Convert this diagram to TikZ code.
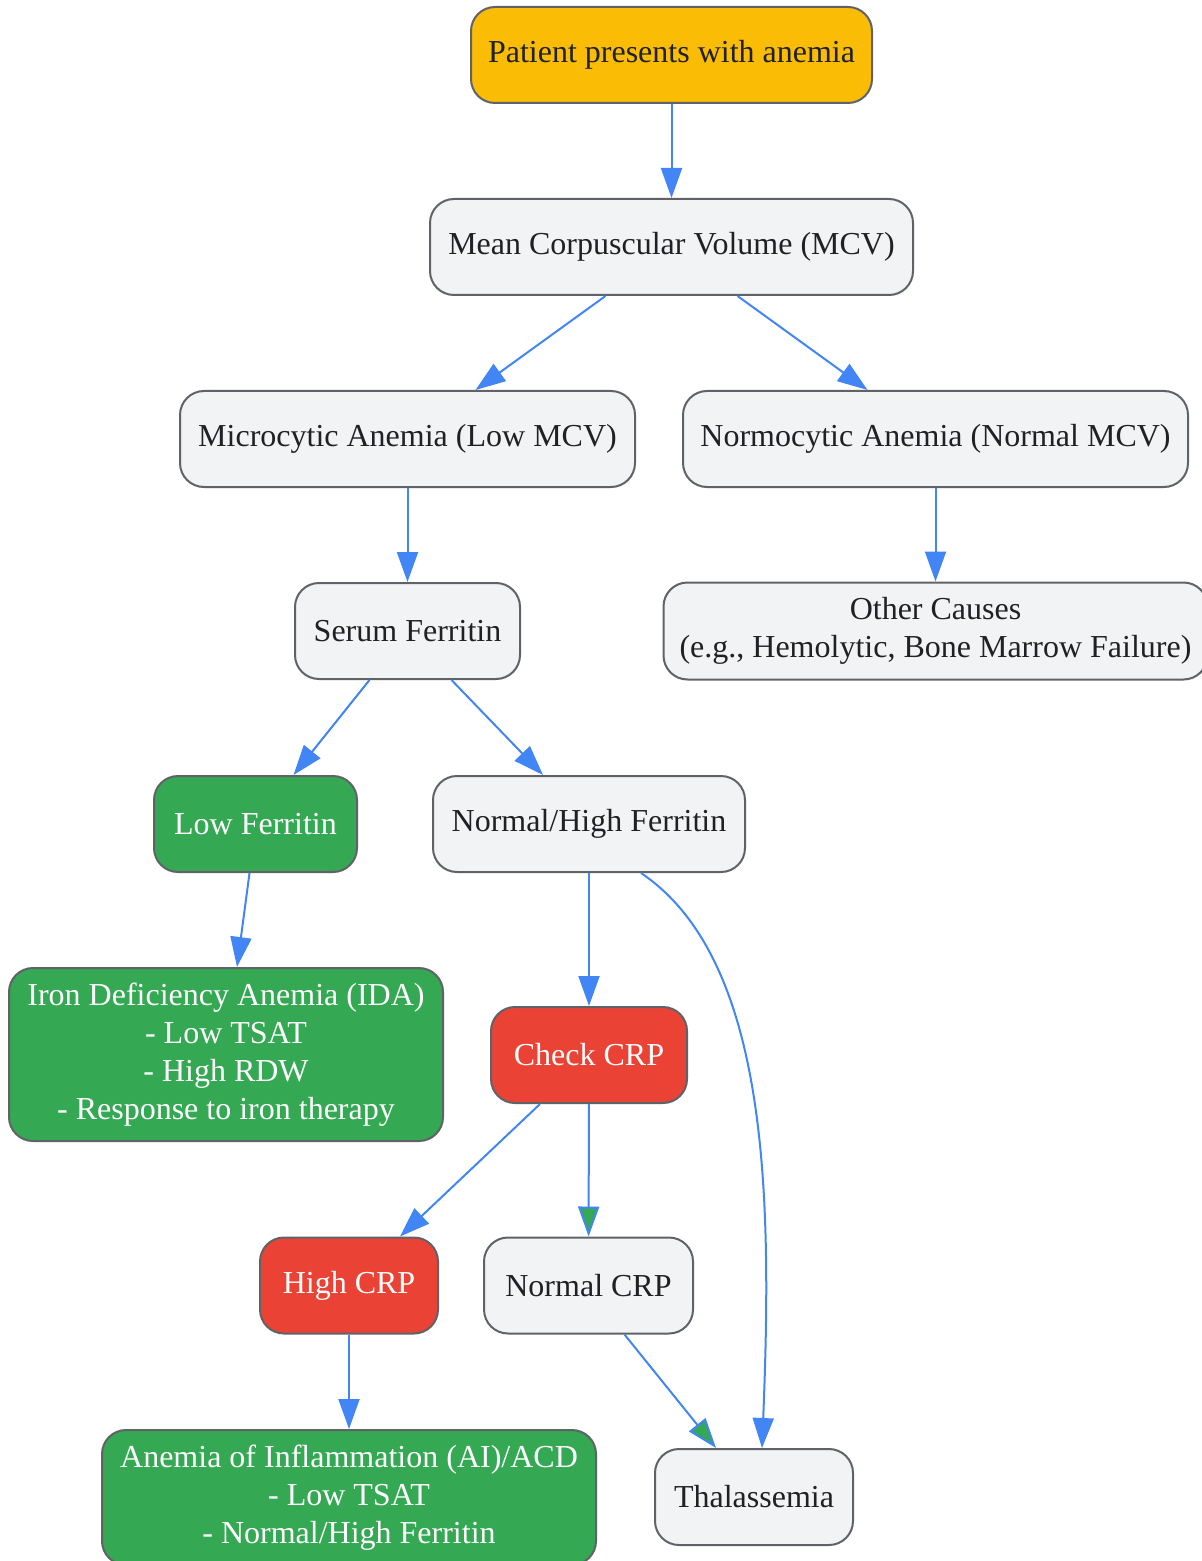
\documentclass[tikz,border=0pt]{standalone}
\usepackage{fontspec}
\setmainfont{Liberation Serif}
\usepackage{xcolor}
\usepackage{tikz}
\usetikzlibrary{
    shapes.misc,
    arrows.meta,
    calc
}
\definecolor{anyellow}{HTML}{FBBC05}
\definecolor{angreen}{HTML}{34A853}
\definecolor{anred}{HTML}{EA4335}
\definecolor{anblue}{HTML}{4285F4}
\definecolor{angray}{HTML}{5F6368}
\definecolor{anlightgray}{HTML}{F1F3F4}
\definecolor{antext}{HTML}{202124}
\tikzset{
    % Standard step box
    anbox/.style={
        rectangle,
        rounded corners=12pt,
        draw=angray,
        line width=1pt,
        fill=#1,
        text=antext,
        font=\fontsize{16pt}{19pt}\selectfont,
        minimum height=48pt,
        align=center,
        inner sep=4pt
    },
    anbox/.default=anlightgray,
    % Result box (white text)
    resultbox/.style={
        anbox=#1,
        text=white
    },
    resultbox/.default=angreen,
    % Arrow style
    anarrow/.style={
        -{Triangle[length=15pt,width=10.5pt]},
        line width=1pt,
        color=anblue
    },
    % Arrow with filled head
    anarrowfill/.style={
        -{Triangle[length=15pt,width=10.5pt,fill=#1]},
        line width=1pt,
        color=anblue
    },
    anarrowfill/.default=angreen
}
\begin{document}
\begin{tikzpicture}[x=0.5pt, y=-0.5pt]

    \useasboundingbox (0,0) rectangle (1201,1561);

    % Top levels
    \node[anbox=anyellow, minimum width=200.5pt] (start) at (671.5,55) {Patient presents with anemia};
    \node[anbox, minimum width=241.5pt] (mcv) at (671.5,247) {Mean Corpuscular Volume (MCV)};
    \node[anbox, minimum width=227.5pt] (micro) at (407.5,439) {Microcytic Anemia (Low MCV)};
    \node[anbox, minimum width=252.5pt] (normo) at (935.5,439) {Normocytic Anemia (Normal MCV)};
    \node[anbox, minimum width=112.5pt] (ferritin) at (407.5,631) {Serum Ferritin};
    \node[anbox, minimum width=272pt, minimum height=48.5pt] (other) at (935.5,631) {Other Causes\\(e.g., Hemolytic, Bone Marrow Failure)};

    % Ferritin branch
    \node[resultbox, minimum width=101.5pt] (lowf) at (255.5,824) {Low Ferritin};
    \node[anbox, minimum width=156pt] (nhf) at (589,824) {Normal/High Ferritin};
    \node[resultbox, minimum width=217pt, minimum height=86.5pt] (ida) at (226,1054.5)
        {Iron Deficiency Anemia (IDA)\\- Low TSAT\\- High RDW\\- Response to iron therapy};
    \node[resultbox=anred, minimum width=98pt] (crp) at (589,1055) {Check CRP};

    % CRP branch
    \node[resultbox=anred, minimum width=89pt] (highcrp) at (349,1285.5) {High CRP};
    \node[anbox, minimum width=104.5pt] (normcrp) at (588.5,1285.5) {Normal CRP};
    \node[resultbox, minimum width=247pt, minimum height=67.5pt] (ai) at (349,1497.5)
        {Anemia of Inflammation (AI)/ACD\\- Low TSAT\\- Normal/High Ferritin};
    \node[anbox, minimum width=99pt] (thal) at (754,1497) {Thalassemia};

    % Connectors
    \draw[anarrow] (start) -- (mcv);
    \draw[anarrow] ([xshift=-33pt]mcv.south) -- ([xshift=34pt]micro.north);
    \draw[anarrow] ([xshift=33pt]mcv.south) -- ([xshift=-34pt]normo.north);
    \draw[anarrow] (micro) -- (ferritin);
    \draw[anarrow] (normo) -- (other);
    \draw[anarrow] ([xshift=-19pt]ferritin.south) -- ([xshift=19pt]lowf.north);
    \draw[anarrow] ([xshift=22pt]ferritin.south) -- ([xshift=-23pt]nhf.north);
    \draw[anarrow] ([xshift=-3pt]lowf.south) -- ([xshift=5.5pt]ida.north);
    \draw[anarrow] (nhf) -- (crp);
    \draw[anarrow] ([xshift=26pt]nhf.south) .. controls (770,960) and (772,1200) .. ([xshift=4pt]thal.north);
    \draw[anarrow] ([xshift=-24.5pt]crp.south) -- ([xshift=25.5pt]highcrp.north);
    \draw[anarrowfill] (crp) -- (normcrp);
    \draw[anarrowfill] ([xshift=18pt]normcrp.south) -- ([xshift=-19pt]thal.north);
    \draw[anarrow] (highcrp) -- (ai);

\end{tikzpicture}
\end{document}
